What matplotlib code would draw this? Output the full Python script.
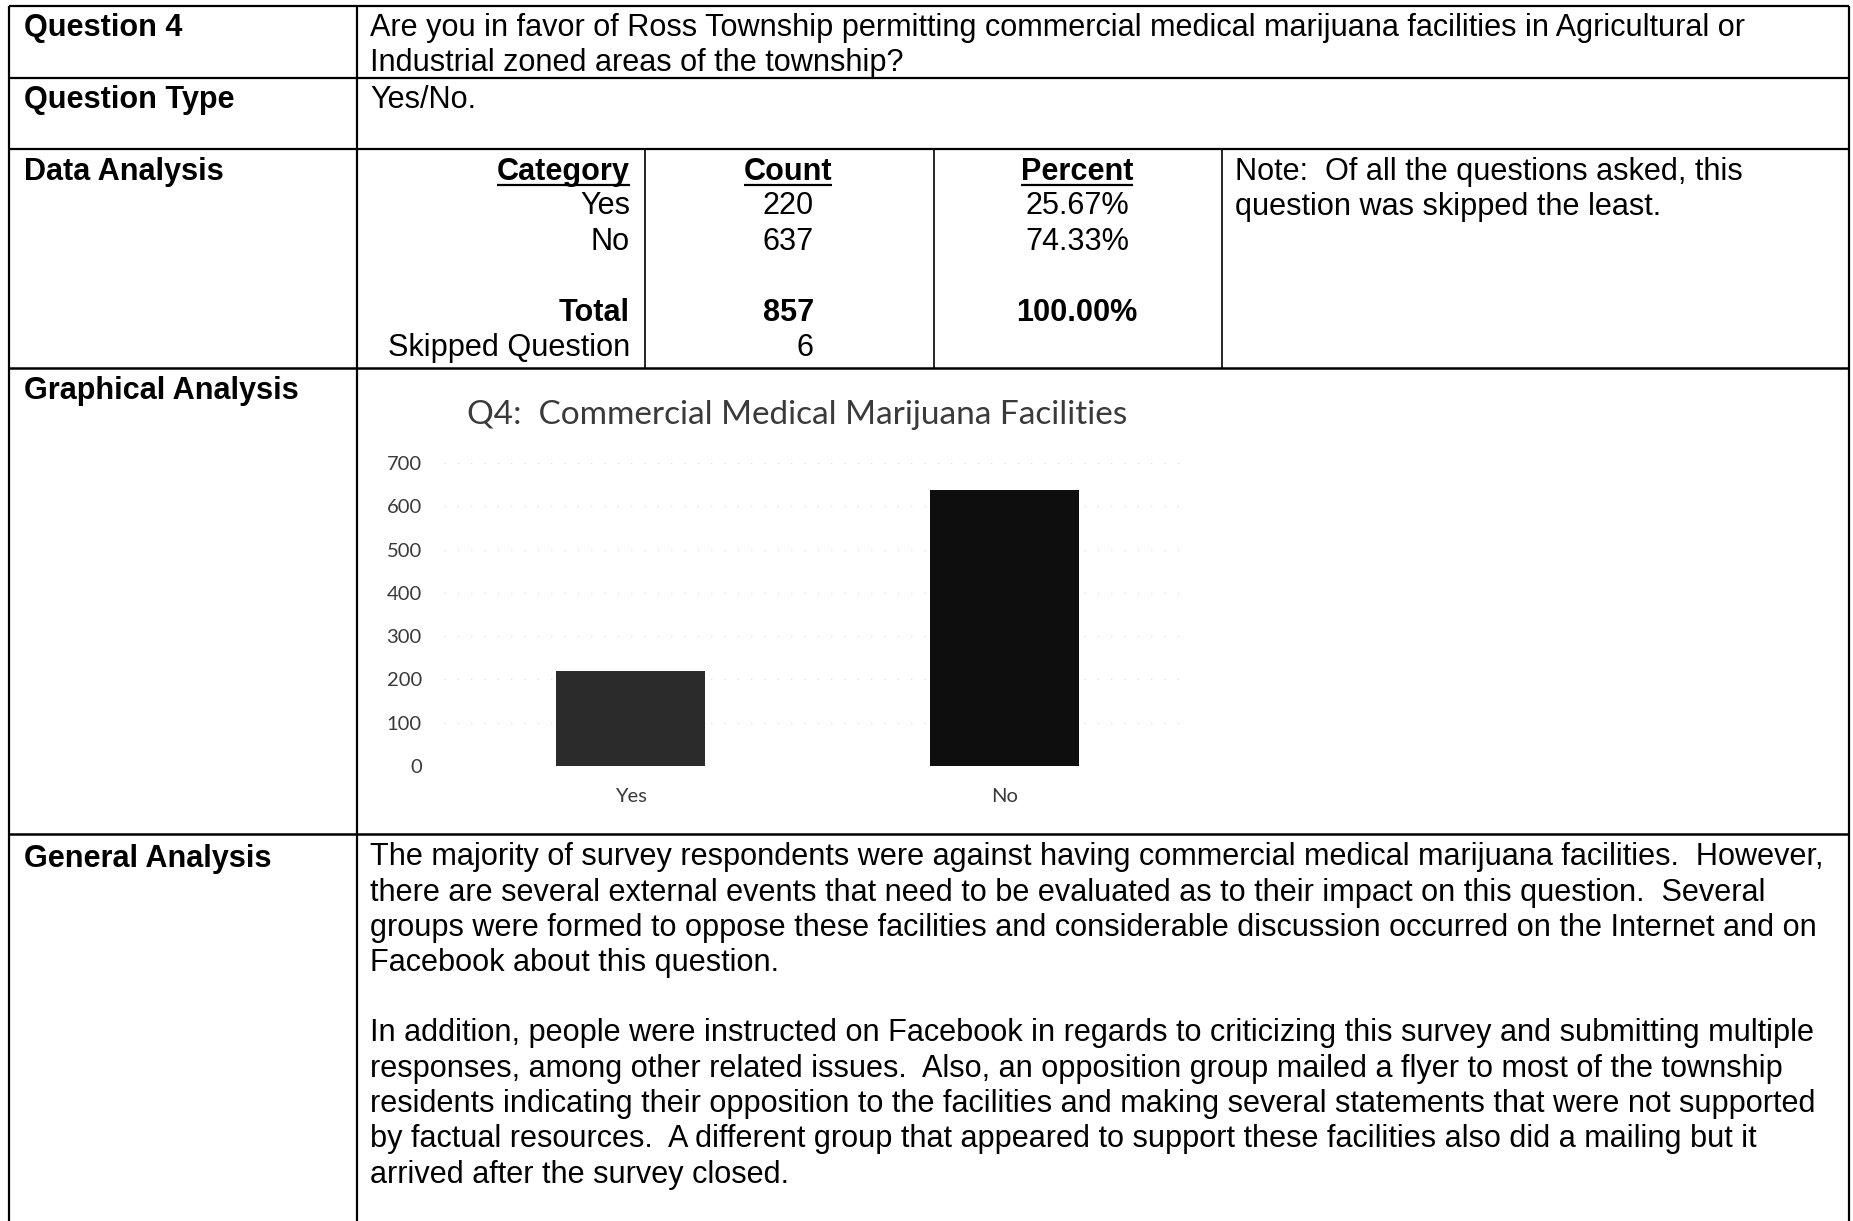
import matplotlib
matplotlib.use("Agg")
import matplotlib.pyplot as plt

W, H = 1853, 1221

# =========================
# DATA
# =========================
categories = ["Yes", "No"]
counts = [220, 637]
y_ticks = [0, 100, 200, 300, 400, 500, 600, 700]
chart_title = "Q4:  Commercial Medical Marijuana Facilities"

table_counts = ["220", "637"]
table_percents = ["25.67%", "74.33%"]
total_count = "857"
total_percent = "100.00%"
skipped_count = "6"

question_lines = [
    "Are you in favor of Ross Township permitting commercial medical marijuana facilities in Agricultural or",
    "Industrial zoned areas of the township?",
]
note_lines = [
    "Note:  Of all the questions asked, this",
    "question was skipped the least.",
]
general_p1 = [
    "The majority of survey respondents were against having commercial medical marijuana facilities.  However,",
    "there are several external events that need to be evaluated as to their impact on this question.  Several",
    "groups were formed to oppose these facilities and considerable discussion occurred on the Internet and on",
    "Facebook about this question.",
]
general_p2 = [
    "In addition, people were instructed on Facebook in regards to criticizing this survey and submitting multiple",
    "responses, among other related issues.  Also, an opposition group mailed a flyer to most of the township",
    "residents indicating their opposition to the facilities and making several statements that were not supported",
    "by factual resources.  A different group that appeared to support these facilities also did a mailing but it",
    "arrived after the survey closed.",
]

TABLE_FONT = "Liberation Sans"
CHART_FONT = "Lato"
FS = 22.1
LINE = 35.5


# =========================
# PAGE / TABLE
# =========================
fig = plt.figure(figsize=(W / 100, H / 100), dpi=100)
fig.patch.set_facecolor("white")
ax = fig.add_axes([0, 0, 1, 1])
ax.set_xlim(0, W)
ax.set_ylim(H, 0)
ax.axis("off")


def txt(x, y, s, bold=False, ha="left", **kw):
    # y is the visual middle of the capitals
    return ax.text(x, y + 11, s, fontsize=FS, family=TABLE_FONT,
                   fontweight="bold" if bold else "normal",
                   ha=ha, va="baseline", color="black", **kw)


def hline(y, x0=9, x1=1849, lw=1.6):
    ax.plot([x0, x1], [y, y], color="black", lw=lw, solid_capstyle="butt")


def vline(x, y0, y1, lw=1.6):
    ax.plot([x, x], [y0, y1], color="black", lw=lw, solid_capstyle="butt")


# borders
hline(6)
hline(78)
hline(149)
hline(368, lw=1.8)
hline(834, lw=1.8)
vline(9, 6, H)
vline(1849, 6, H)
vline(357, 6, H)
for cx in [645, 934, 1222]:
    vline(cx, 149, 368, lw=1.2)

# left labels
txt(24, 25, "Question 4", bold=True)
txt(24, 97, "Question Type", bold=True)
txt(24, 169, "Data Analysis", bold=True)
txt(24, 388, "Graphical Analysis", bold=True)
txt(24, 856, "General Analysis", bold=True)

# right column text
for i, s in enumerate(question_lines):
    txt(370, 25 + i * LINE, s)
txt(370, 97, "Yes/No.")

# data analysis sub-table
headers = [
    txt(630, 169, "Category", bold=True, ha="right"),
    txt(788, 169, "Count", bold=True, ha="center"),
    txt(1077, 169, "Percent", bold=True, ha="center"),
]
row_y = [203, 239]
for cat, c, p, y in zip(categories, table_counts, table_percents, row_y):
    txt(630, y, cat, ha="right")
    txt(814, y, c, ha="right")
    txt(1077, y, p, ha="center")
txt(630, 310, "Total", bold=True, ha="right")
txt(814, 310, total_count, bold=True, ha="right")
txt(1077, 310, total_percent, bold=True, ha="center")
txt(630, 345, "Skipped Question", ha="right")
txt(814, 345, skipped_count, ha="right")

for i, s in enumerate(note_lines):
    txt(1235, 169 + i * LINE, s)

for i, s in enumerate(general_p1):
    txt(370, 854 + i * LINE, s)
for i, s in enumerate(general_p2):
    txt(370, 1030 + i * LINE, s)

# underline the sub-table headers
fig.canvas.draw()
inv = ax.transData.inverted()
for t in headers:
    bb = t.get_window_extent()
    (x0, _), (x1, _) = inv.transform([[bb.x0, bb.y0], [bb.x1, bb.y0]])
    ax.plot([x0, x1], [185, 185], color="black", lw=1.6, solid_capstyle="butt")


# =========================
# BAR CHART
# =========================
px_l, px_r = 444, 1191
px_top, px_bot = 463, 766
cax = fig.add_axes([px_l / W, 1 - px_bot / H, (px_r - px_l) / W, (px_bot - px_top) / H])
cax.set_facecolor("none")
xs = list(range(len(categories)))
cax.bar(xs, counts, width=0.4, color=["#2b2b2b", "#0e0e0e"], zorder=3)
cax.set_xlim(-0.5, len(categories) - 0.5)
cax.set_ylim(0, 700)
cax.set_yticks(y_ticks)
cax.set_xticks(xs)
cax.set_xticklabels(categories)
for sp in cax.spines.values():
    sp.set_visible(False)
cax.tick_params(axis="both", length=0, labelsize=14.5, labelcolor="#3a3a3a")
cax.tick_params(axis="y", pad=16)
cax.tick_params(axis="x", pad=16)
for lab in cax.get_xticklabels() + cax.get_yticklabels():
    lab.set_family(CHART_FONT)
cax.grid(axis="y", color="#d4d4d4", lw=0.8, linestyle=(0, (1, 11)), zorder=0)

ax.text(467, 415, chart_title, fontsize=24, family=CHART_FONT, color="#3a3a3a",
        ha="left", va="center")

fig.savefig("out.png", dpi=100, facecolor="white")
